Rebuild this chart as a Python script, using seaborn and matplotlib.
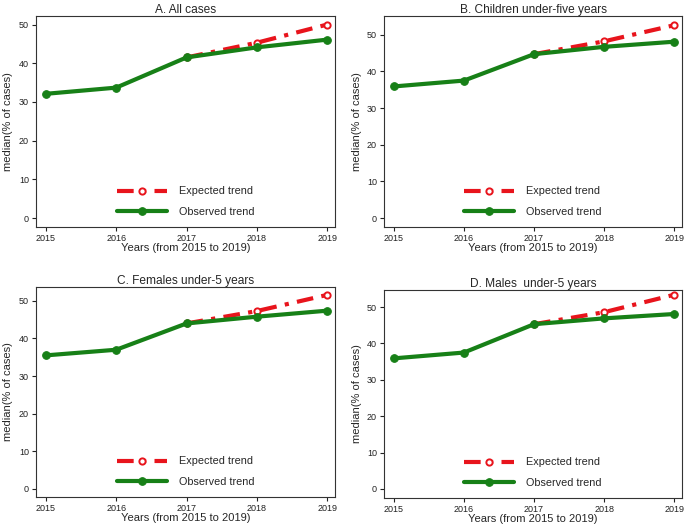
import pandas as pd
import numpy as np
import matplotlib.pyplot as plt
import seaborn as sns

years = [2015, 2016, 2017, 2018, 2019]
exp_years = [2017, 2018, 2019]

titles = ["A. All cases", "B. Children under-five years",
          "C. Females under-5 years", "D. Males  under-5 years"]

observed_a = [32.1, 33.7, 41.5, 44.1, 46.1]
expected_a = [41.5, 45.3, 50.0]
observed_b = [35.9, 37.5, 44.7, 46.7, 48.1]
expected_b = [44.7, 48.2, 52.6]
observed_c = [35.5, 37.0, 44.0, 45.8, 47.4]
expected_c = [44.0, 47.3, 51.6]
observed_d = [35.9, 37.5, 45.3, 46.9, 48.1]
expected_d = [45.3, 48.6, 53.4]

observed_all = [observed_a, observed_b, observed_c, observed_d]
expected_all = [expected_a, expected_b, expected_c, expected_d]
ylims = [(-2.3, 52.2), (-2.4, 55.1), (-2.2, 53.7), (-2.5, 54.7)]

sns.set_theme(style="ticks")
plt.rcParams['font.family'] = ['Liberation Sans', 'DejaVu Sans']

fig = plt.figure(figsize=(6.85, 5.27), dpi=100)
W, H = 685, 527
boxes = [(36, 16, 335, 227), (384, 16, 682, 227),
         (36, 287, 335, 497), (384, 290, 682, 498)]

green = "#178017"
red = "#e8141c"

for i, (l, t, r, b) in enumerate(boxes):
    ax = fig.add_axes([l / W, 1 - b / H, (r - l) / W, (b - t) / H])
    obs = pd.DataFrame({"year": years, "value": observed_all[i]})
    exp = pd.DataFrame({"year": exp_years, "value": expected_all[i]})

    # expected first so the observed line sits on top at 2017
    sns.lineplot(data=exp, x="year", y="value", ax=ax, color=red,
                 linewidth=3, dashes=False, label="Expected trend",
                 marker="o", markersize=4.5, markerfacecolor="white",
                 markeredgecolor=red, markeredgewidth=1.4)
    ax.lines[-1].set_dashes([4, 2, 1, 2])
    sns.lineplot(data=obs, x="year", y="value", ax=ax, color=green,
                 linewidth=3, label="Observed trend",
                 marker="o", markersize=5.5, markeredgecolor=green)

    ax.set_xlim(2014.86, 2019.11)
    ax.set_ylim(*ylims[i])
    ax.set_xticks(years)
    ax.set_yticks([0, 10, 20, 30, 40, 50])
    ax.tick_params(labelsize=6.5, length=3, width=0.8, colors="#222222", pad=2)
    for s in ax.spines.values():
        s.set_visible(True)
        s.set_linewidth(0.8)
        s.set_color("#333333")
    ax.set_title(titles[i], fontsize=8.6, pad=2.5)
    ax.set_xlabel("Years (from 2015 to 2019)", fontsize=8, labelpad=0)
    ax.set_ylabel("median(% of cases)", fontsize=8, labelpad=4)
    ax.legend(loc="lower center", bbox_to_anchor=(0.5, 0.0), frameon=False,
              fontsize=7.8, handlelength=4.6, labelspacing=1.0,
              handletextpad=1.1)

fig.savefig("out.png", dpi=100)
